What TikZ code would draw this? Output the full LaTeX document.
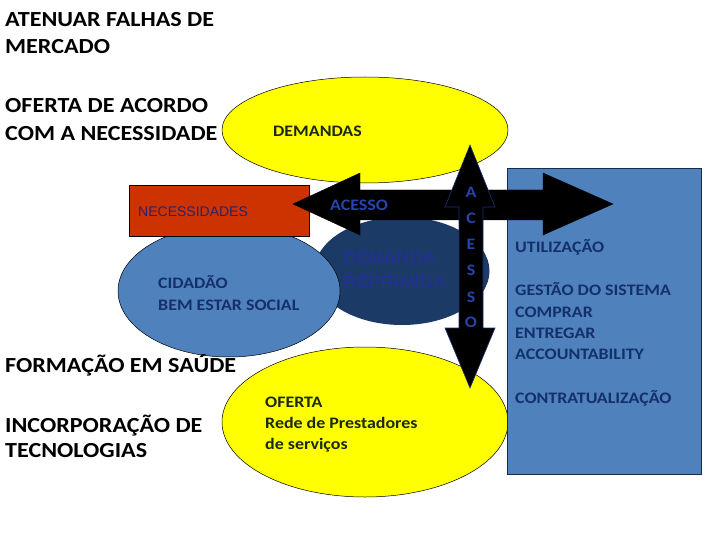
\documentclass[tikz,border=0pt]{standalone}
\usepackage{fontspec}
\setmainfont{Carlito}[FakeStretch=1.12]
\newfontfamily\arialw{Liberation Sans}[FakeStretch=1.12]
\newfontfamily\arialn{Liberation Sans}
\usetikzlibrary{shapes.geometric}
\definecolor{yel}{HTML}{FFFF00}
\definecolor{lblue}{HTML}{4F81BD}
\definecolor{dblue}{HTML}{1C3A66}
\definecolor{redbox}{HTML}{CC3300}
\definecolor{navytxt}{HTML}{14306B}
\definecolor{bluetxt}{HTML}{2844AC}
\definecolor{reptxt}{HTML}{22309C}
\definecolor{nectxt}{HTML}{2B2366}
\definecolor{greentxt}{HTML}{1A2A10}
\definecolor{boxedge}{HTML}{1A2A4A}
\tikzset{
  oval/.style={ellipse, draw=black, line width=0.5pt, inner sep=0pt},
  bigtxt/.style={anchor=base west, inner sep=0pt, font=\fontsize{21.5}{26}\selectfont\bfseries, text=black},
  smallbold/.style={anchor=base west, inner sep=0pt, font=\fontsize{16}{19}\selectfont\bfseries},
  letter/.style={anchor=base, inner sep=0pt, font=\fontsize{16}{19}\selectfont\bfseries, text=bluetxt},
  arrowbody/.style={fill=black, draw=black, line width=0.4pt, line join=miter},
}
\begin{document}
\begin{tikzpicture}[x=1pt,y=-1pt]
\useasboundingbox[fill=white] (0,0) rectangle (720,540);

% left texts
\node[bigtxt] (t1) at (5,27) {ATENUAR FALHAS DE};
\node[bigtxt] (t2) at (5,54) {MERCADO};
\node[bigtxt] (t3) at (5,113) {OFERTA DE ACORDO};
\node[bigtxt] (t4) at (5,141) {COM A NECESSIDADE};

% top yellow ellipse
\node[oval, fill=yel, minimum width=286pt, minimum height=106pt] (demandas) at (365,130) {};
\node[smallbold, text=greentxt] (demandasT) at (273,137) {DEMANDAS};

% dark ellipse
\node[ellipse, inner sep=0pt, fill=dblue, minimum width=175pt, minimum height=108pt] (reprimida) at (402,271) {};

% light blue ellipse
\node[oval, fill=lblue, minimum width=222pt, minimum height=132pt] (cidadao) at (229,291) {};

% red rectangle
\node[draw=black, line width=0.5pt, fill=redbox, minimum width=180pt, minimum height=51pt, inner sep=0pt] (necess) at (219,210.5) {};
\node[anchor=base west, inner sep=0pt, font=\arialn\fontsize{14}{16}\selectfont, text=nectxt] (necessT) at (138,217) {NECESSIDADES};

% bottom yellow ellipse
\node[oval, fill=yel, minimum width=286pt, minimum height=150pt] (oferta) at (365,422) {};

% blue rectangle
\node[draw=boxedge, line width=0.8pt, fill=lblue, minimum width=194pt, minimum height=306pt, inner sep=0pt] (gestao) at (604,321) {};

% horizontal double arrow
\draw[arrowbody] (293,204) -- (360,173) -- (360,190) -- (543,190) -- (543,173) -- (613,204)
  -- (543,235) -- (543,220) -- (360,220) -- (360,235) -- cycle;
% vertical double arrow
\draw[fill=black, draw=bluetxt!70!black, line width=0.6pt, line join=miter]
  (470,145) -- (495,207) -- (483,207) -- (483,328) -- (495,328) -- (470,388)
  -- (445,328) -- (459,328) -- (459,207) -- (445,207) -- cycle;

% texts in shapes
\node[smallbold, text=bluetxt] (acessoT) at (330,211) {ACESSO};
\foreach \l/\y [count=\i] in {A/197, C/223, E/249, S/275, S/302, O/327}
  \node[letter] (v\i) at (471,\y) {\l};

\node[anchor=base west, inner sep=0pt, font=\arialw\fontsize{16.4}{19}\selectfont, text=reptxt] (repT1) at (343,263) {DEMANDA};
\node[anchor=base west, inner sep=0pt, font=\arialw\fontsize{16.4}{19}\selectfont, text=reptxt] (repT2) at (343,287) {REPRIMIDA};

\node[smallbold, text=navytxt] (cidT1) at (158,288) {CIDADÃO};
\node[smallbold, text=navytxt] (cidT2) at (158,310) {BEM ESTAR SOCIAL};

\node[smallbold, text=navytxt] (g1) at (515,252) {UTILIZAÇÃO};
\node[smallbold, text=navytxt] (g2) at (515,295) {GESTÃO DO SISTEMA};
\node[smallbold, text=navytxt] (g3) at (515,317) {COMPRAR};
\node[smallbold, text=navytxt] (g4) at (515,338) {ENTREGAR};
\node[smallbold, text=navytxt] (g5) at (515,359) {ACCOUNTABILITY};
\node[smallbold, text=navytxt] (g6) at (515,403) {CONTRATUALIZAÇÃO};

\node[smallbold, text=greentxt] (of1) at (265,407) {OFERTA};
\node[smallbold, text=greentxt] (of2) at (265,428) {Rede de Prestadores};
\node[smallbold, text=greentxt] (of3) at (265,449) {de serviços};

% bottom-left texts
\node[bigtxt] (b1) at (5,372) {FORMAÇÃO EM SAÚDE};
\node[bigtxt] (b2) at (5,432) {INCORPORAÇÃO DE};
\node[bigtxt] (b3) at (5,457) {TECNOLOGIAS};
\end{tikzpicture}
\end{document}
